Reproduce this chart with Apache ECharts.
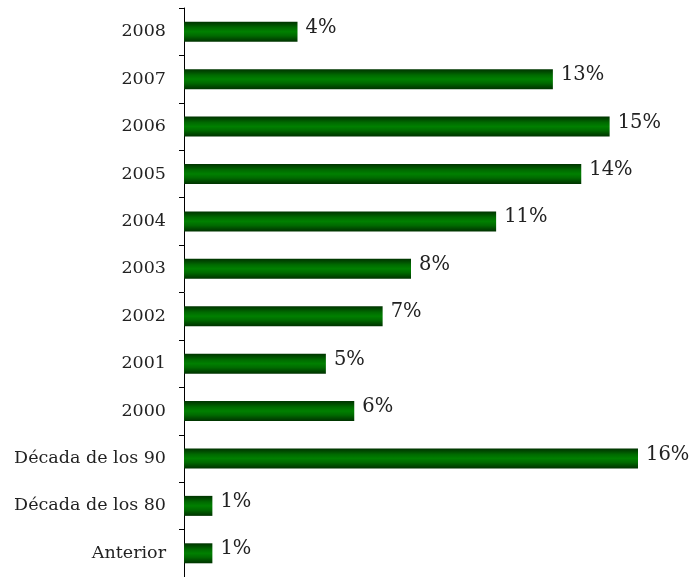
<!DOCTYPE html>
<html>
<head>
<meta charset="utf-8">
<script src="https://cdn.jsdelivr.net/npm/echarts@6/dist/echarts.min.js"></script>
<style>
  html, body { margin: 0; padding: 0; background: #fff; }
  #chart { width: 691px; height: 577px; }
</style>
</head>
<body>
<div id="chart"></div>
<script>
// categorias de arriba a abajo
var categories = ['2008', '2007', '2006', '2005', '2004', '2003', '2002', '2001', '2000',
                  'Década de los 90', 'Década de los 80', 'Anterior'];
var values = [4, 13, 15, 14, 11, 8, 7, 5, 6, 16, 1, 1];

var chart = echarts.init(document.getElementById('chart'));
var barColor = new echarts.graphic.LinearGradient(0, 0, 0, 1, [
    { offset: 0, color: '#003300' },
    { offset: 0.15, color: '#004d00' },
    { offset: 0.3, color: '#006a00' },
    { offset: 0.5, color: '#008000' },
    { offset: 0.7, color: '#006a00' },
    { offset: 0.85, color: '#004d00' },
    { offset: 1, color: '#003300' }
]);

var option = {
    animation: false,
    textStyle: { fontFamily: 'DejaVu Serif' },
    grid: { left: 184, right: 53, top: 8, bottom: 0 },
    xAxis: {
        type: 'value',
        min: 0,
        max: 16,
        show: false
    },
    yAxis: {
        type: 'category',
        data: categories,
        inverse: true,
        axisLine: { show: true, lineStyle: { color: '#000', width: 1 } },
        axisTick: { show: true, length: 5, lineStyle: { color: '#000' } },
        axisLabel: { color: '#222', fontSize: 17.5, margin: 18, fontFamily: 'DejaVu Serif' },
        splitLine: { show: false }
    },
    series: [
        {
            type: 'bar',
            data: values,
            barWidth: 20,
            itemStyle: { color: barColor },
            label: {
                show: true,
                position: 'right',
                distance: 8,
                offset: [0, -4],
                formatter: '{c}%',
                color: '#222',
                fontSize: 19.5,
                fontFamily: 'DejaVu Serif'
            }
        }
    ]
};
chart.setOption(option);
</script>
</body>
</html>
